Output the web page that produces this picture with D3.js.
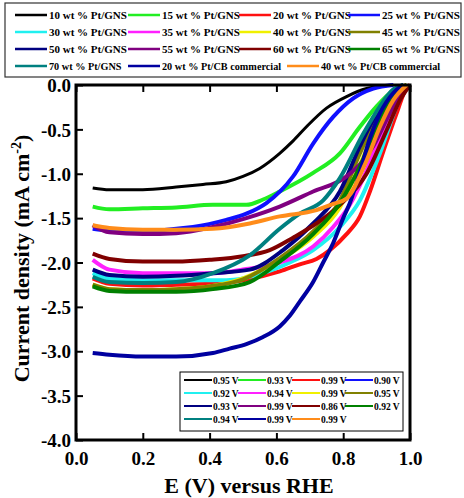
<!DOCTYPE html>
<html>
<head>
<meta charset="utf-8">
<script src="https://cdn.jsdelivr.net/npm/d3@7"></script>
<style>
  body { margin: 0; background: #fff; }
  svg text { font-family: "Liberation Serif", "Times New Roman", serif; font-weight: bold; }
</style>
</head>
<body>
<svg id="chart" width="464" height="498"></svg>
<script>
// legend names, colours and onset potentials
const names = [
  "10 wt % Pt/GNS", "15 wt % Pt/GNS", "20 wt % Pt/GNS", "25 wt % Pt/GNS",
  "30 wt % Pt/GNS", "35 wt % Pt/GNS", "40 wt % Pt/GNS", "45 wt % Pt/GNS",
  "50 wt % Pt/GNS", "55 wt % Pt/GNS", "60 wt % Pt/GNS", "65 wt % Pt/GNS",
  "70 wt % Pt/GNS", "20 wt % Pt/CB commercial", "40 wt % Pt/CB commercial"
];
const colors = [
  "#000000", "#22ee22", "#ff1010", "#1010ff",
  "#20f0f0", "#ff20ff", "#f0f000", "#808000",
  "#000080", "#800080", "#800000", "#008000",
  "#008080", "#0000a0", "#ff8c1a"
];
const onsets = [
  "0.95 V", "0.93 V", "0.99 V", "0.90 V",
  "0.92 V", "0.94 V", "0.99 V", "0.95 V",
  "0.93 V", "0.99 V", "0.86 V", "0.92 V",
  "0.94 V", "0.99 V", "0.99 V"
];

const xTicks = [0, 0.2, 0.4, 0.6, 0.8, 1.0];
const yTicks = [0, -0.5, -1, -1.5, -2, -2.5, -3, -3.5, -4];

// [E (V), current density (mA cm-2)]
const pt10 = [[0.05,-1.16],[0.1,-1.18],[0.2,-1.18],[0.3,-1.15],[0.38,-1.12],[0.45,-1.09],[0.5,-1.03],[0.55,-0.94],[0.61,-0.77],[0.65,-0.63],[0.69,-0.47],[0.75,-0.26],[0.81,-0.13],[0.87,-0.04],[0.95,0]];
const pt15 = [[0.05,-1.37],[0.1,-1.4],[0.2,-1.39],[0.3,-1.38],[0.41,-1.35],[0.51,-1.35],[0.56,-1.29],[0.61,-1.2],[0.71,-0.99],[0.79,-0.77],[0.85,-0.47],[0.9,-0.24],[0.95,-0.06],[0.98,0]];
const pt20 = [[0.05,-2.18],[0.1,-2.24],[0.2,-2.26],[0.3,-2.25],[0.4,-2.24],[0.5,-2.2],[0.61,-2.1],[0.67,-2.02],[0.72,-1.96],[0.76,-1.86],[0.81,-1.68],[0.85,-1.48],[0.88,-1.2],[0.92,-0.75],[0.96,-0.32],[0.99,-0.03],[1.0,0]];
const pt25 = [[0.05,-1.62],[0.1,-1.64],[0.2,-1.64],[0.35,-1.6],[0.45,-1.52],[0.51,-1.45],[0.57,-1.33],[0.65,-1.03],[0.71,-0.66],[0.77,-0.36],[0.83,-0.15],[0.89,-0.04],[0.95,0]];
const pt30 = [[0.05,-2.12],[0.1,-2.18],[0.2,-2.2],[0.3,-2.2],[0.45,-2.2],[0.56,-2.12],[0.64,-2.0],[0.71,-1.86],[0.79,-1.6],[0.85,-1.3],[0.91,-0.77],[0.96,-0.24],[0.99,0]];
const pt35 = [[0.05,-1.97],[0.1,-2.08],[0.2,-2.12],[0.3,-2.12],[0.41,-2.12],[0.5,-2.08],[0.61,-2.0],[0.71,-1.82],[0.77,-1.6],[0.82,-1.35],[0.86,-1.05],[0.91,-0.58],[0.96,-0.17],[0.99,0]];
const pt40 = [[0.05,-2.25],[0.1,-2.3],[0.2,-2.31],[0.3,-2.3],[0.4,-2.27],[0.5,-2.18],[0.61,-1.97],[0.71,-1.71],[0.79,-1.38],[0.85,-0.9],[0.91,-0.36],[0.96,-0.08],[0.99,0]];
const pt45 = [[0.05,-2.25],[0.1,-2.3],[0.2,-2.31],[0.3,-2.3],[0.4,-2.27],[0.5,-2.19],[0.61,-1.95],[0.71,-1.65],[0.79,-1.3],[0.85,-0.77],[0.92,-0.24],[0.96,-0.05],[0.99,0]];
const pt50 = [[0.05,-2.08],[0.1,-2.14],[0.2,-2.16],[0.3,-2.15],[0.41,-2.12],[0.52,-2.08],[0.62,-1.86],[0.71,-1.56],[0.79,-1.2],[0.85,-0.69],[0.9,-0.32],[0.95,-0.06],[0.98,0]];
const pt55 = [[0.05,-1.58],[0.1,-1.66],[0.2,-1.68],[0.3,-1.67],[0.41,-1.6],[0.51,-1.5],[0.61,-1.37],[0.71,-1.2],[0.81,-1.03],[0.89,-0.69],[0.93,-0.39],[0.97,-0.1],[0.99,0]];
const pt60 = [[0.05,-1.9],[0.1,-1.96],[0.2,-1.99],[0.3,-1.99],[0.4,-1.97],[0.5,-1.93],[0.58,-1.86],[0.65,-1.72],[0.72,-1.56],[0.79,-1.35],[0.87,-1.0],[0.93,-0.51],[0.97,-0.17],[1.0,0]];
const pt65 = [[0.05,-2.27],[0.1,-2.32],[0.2,-2.33],[0.3,-2.33],[0.41,-2.3],[0.52,-2.22],[0.61,-1.99],[0.71,-1.68],[0.79,-1.33],[0.85,-0.92],[0.91,-0.39],[0.96,-0.09],[0.99,0]];
const pt70 = [[0.05,-2.16],[0.1,-2.22],[0.2,-2.23],[0.3,-2.22],[0.41,-2.12],[0.52,-1.92],[0.61,-1.62],[0.67,-1.45],[0.74,-1.3],[0.79,-1.05],[0.86,-0.55],[0.91,-0.24],[0.95,-0.05],[0.98,0]];
const cb20 = [[0.05,-3.02],[0.1,-3.04],[0.2,-3.06],[0.3,-3.06],[0.41,-3.02],[0.46,-2.97],[0.51,-2.92],[0.56,-2.84],[0.61,-2.72],[0.64,-2.6],[0.67,-2.44],[0.71,-2.22],[0.74,-2.0],[0.77,-1.78],[0.8,-1.5],[0.82,-1.33],[0.85,-0.98],[0.88,-0.6],[0.91,-0.32],[0.95,-0.09],[0.98,0]];
const cb40 = [[0.05,-1.58],[0.1,-1.61],[0.2,-1.63],[0.3,-1.63],[0.41,-1.62],[0.52,-1.56],[0.61,-1.48],[0.72,-1.41],[0.77,-1.34],[0.81,-1.28],[0.87,-0.85],[0.91,-0.47],[0.95,-0.17],[0.99,0]];

const series = [pt10, pt15, pt20, pt25, pt30, pt35, pt40, pt45, pt50, pt55, pt60, pt65, pt70, cb20, cb40];

const svg = d3.select("#chart");
const margin = { left: 76, right: 54, top: 85, bottom: 58 };
const W = 464, H = 498;

const x = d3.scaleLinear().domain([0, 1]).range([margin.left, W - margin.right]);
const y = d3.scaleLinear().domain([-4, 0]).range([H - margin.bottom, margin.top]);

// curves
const line = d3.line()
  .x(d => x(d[0]))
  .y(d => y(d[1]))
  .curve(d3.curveMonotoneX);

series.forEach((s, i) => {
  svg.append("path")
    .datum(s)
    .attr("d", line)
    .attr("fill", "none")
    .attr("stroke", colors[i])
    .attr("stroke-width", i == 0 ? 3 : 4)
    .attr("stroke-linejoin", "round");
});

// frame
svg.append("rect")
  .attr("x", x(0)).attr("y", y(0))
  .attr("width", x(1) - x(0)).attr("height", y(-4) - y(0))
  .attr("fill", "none").attr("stroke", "#000").attr("stroke-width", 3);

// axes, ticks inward
const xAxis = svg.append("g")
  .attr("transform", "translate(0," + y(-4) + ")")
  .call(d3.axisBottom(x).tickValues(xTicks).tickSizeInner(-7).tickSizeOuter(0).tickPadding(12).tickFormat(d3.format(".1f")));
const xTop = svg.append("g")
  .attr("transform", "translate(0," + y(0) + ")")
  .call(d3.axisTop(x).tickValues(xTicks).tickSizeInner(-7).tickSizeOuter(0).tickFormat(""));
const yAxis = svg.append("g")
  .attr("transform", "translate(" + x(0) + ",0)")
  .call(d3.axisLeft(y).tickValues(yTicks).tickSizeInner(-7).tickSizeOuter(0).tickPadding(5).tickFormat(d => d3.format(".1f")(d).replace("−", "-")));

[xAxis, xTop, yAxis].forEach(g => {
  g.select(".domain").remove();
  g.selectAll(".tick line").attr("stroke", "#000").attr("stroke-width", 2);
  g.selectAll(".tick text").attr("fill", "#000").style("font-size", "19px");
});
xAxis.selectAll(".tick text").attr("dy", "0.71em");
yAxis.selectAll(".tick text").attr("dy", "0.35em");

// axis titles
svg.append("text")
  .attr("x", (x(0) + x(1)) / 2 + 6)
  .attr("y", 493)
  .attr("text-anchor", "middle")
  .style("font-size", "22px")
  .text("E (V) versus RHE");

const yt = svg.append("text")
  .attr("transform", "translate(29," + (y(-2) - 4) + ") rotate(-90)")
  .attr("text-anchor", "middle")
  .style("font-size", "22px");
yt.append("tspan").text("Current density (mA cm");
yt.append("tspan").attr("dy", -8).style("font-size", "14px").text("-2");
yt.append("tspan").attr("dy", 8).text(")");

// squeeze a text a bit, the original font is narrower
function squeeze(t, k) {
  const w = t.node().getComputedTextLength();
  t.attr("textLength", w * k).attr("lengthAdjust", "spacingAndGlyphs");
}

// top legend
const legTop = svg.append("g");
legTop.append("rect")
  .attr("x", 5).attr("y", 3).attr("width", 456).attr("height", 74)
  .attr("fill", "#fff").attr("stroke", "#333").attr("stroke-width", 1.2);
const topCols = [15, 128, 239, 348];
const topRow4 = [15, 128, 287];
names.forEach((n, i) => {
  const row = Math.floor(i / 4), col = i % 4;
  const lx = row < 3 ? topCols[col] : topRow4[col];
  const ly = 15 + row * 17;
  legTop.append("line")
    .attr("x1", lx).attr("x2", lx + 32).attr("y1", ly).attr("y2", ly)
    .attr("stroke", colors[i]).attr("stroke-width", 2.5);
  const t = legTop.append("text")
    .attr("x", lx + 34).attr("y", ly + 4)
    .style("font-size", "11px")
    .text(n);
  if (row == 3) squeeze(t, 0.93);
});

// onset potential legend
const legBot = svg.append("g");
legBot.append("rect")
  .attr("x", 180).attr("y", 372).attr("width", 223).attr("height", 59)
  .attr("fill", "#fff").attr("stroke", "#000").attr("stroke-width", 1);
const botCols = [184, 238, 292, 345];
onsets.forEach((t, i) => {
  const row = Math.floor(i / 4), col = i % 4;
  const lx = botCols[col];
  const ly = 380 + row * 13;
  legBot.append("line")
    .attr("x1", lx).attr("x2", lx + 28).attr("y1", ly).attr("y2", ly)
    .attr("stroke", colors[i]).attr("stroke-width", 2);
  legBot.append("text")
    .attr("x", lx + 29).attr("y", ly + 3.5)
    .style("font-size", "9.5px")
    .text(t);
});
</script>
</body>
</html>
